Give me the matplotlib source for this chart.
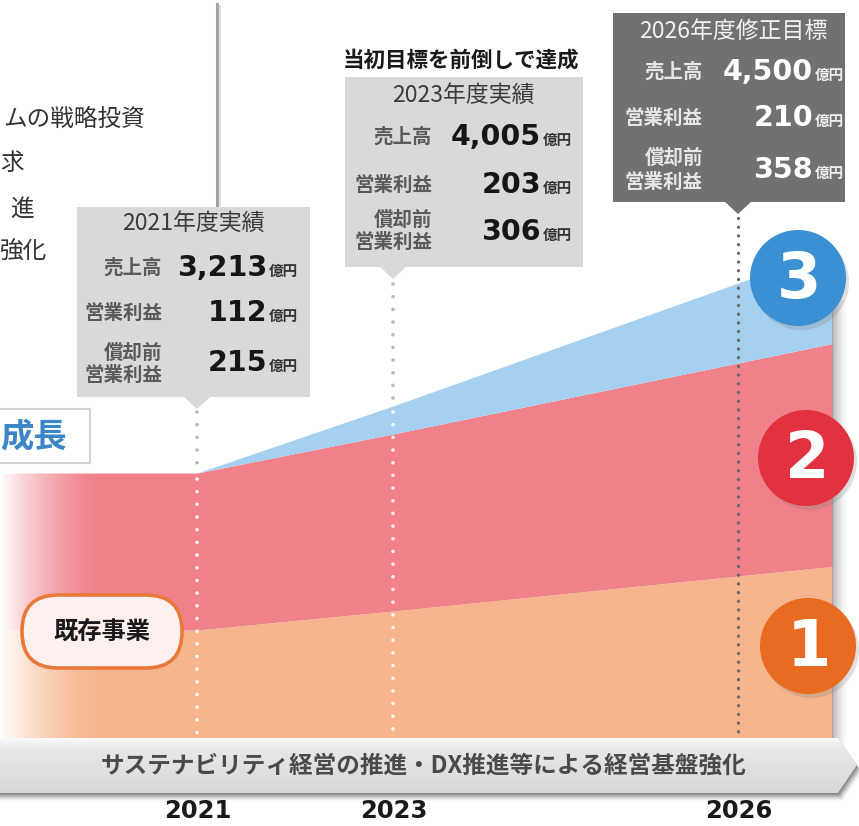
import numpy as np
import matplotlib
matplotlib.use('Agg')
import matplotlib.pyplot as plt
from matplotlib.patches import Polygon, Rectangle, Circle, FancyBboxPatch

plt.rcParams['font.family'] = ['Noto Sans CJK JP', 'DejaVu Sans']

# ---------------- data ----------------
years = [2021, 2023, 2026]
year_labels = ['2021', '2023', '2026']
# schematic band thickness (stacked)
existing_business = [115, 134, 169]   # band 1 (orange)
growth_business = [157, 177, 213]     # band 2 (red)
new_business = [0, 28, 80]            # band 3 (blue)
circle_labels = ['1', '2', '3']

box_titles = ['2021年度実績', '2023年度実績', '2026年度修正目標']
sales = ['3,213', '4,005', '4,500']
op_profit = ['112', '203', '210']
ebitda = ['215', '306', '358']
label_sales = '売上高'
label_op = '営業利益'
label_ebitda = ['償却前', '営業利益']
unit = '億円'
headline_2023 = '当初目標を前倒しで達成'
banner_text = 'サステナビリティ経営の推進・DX推進等による経営基盤強化'
existing_label = '既存事業'
growth_label = '成長'
topbox_lines = ['ムの戦略投資', '求', '進', '強化']

# ---------------- layout ----------------
W, H = 859, 826
YEAR_X = [197, 393, 738]
BASE = 745
X_LEFT, X_RIGHT = 0, 832

C_ORANGE = '#f6b58d'
C_RED = '#f0808a'
C_BLUE = '#a6d0ef'
C_CIRC = ['#e96b22', '#e2323f', '#3b8fd3']

fig = plt.figure(figsize=(W / 100, H / 100), dpi=100)
ax = fig.add_axes([0, 0, 1, 1])
ax.set_xlim(0, W)
ax.set_ylim(H, 0)
ax.axis('off')


def extend(v):
    """values at left edge, years, right edge (linear continuation)"""
    slope = (v[2] - v[1]) / (YEAR_X[2] - YEAR_X[1])
    return np.array([v[0], v[0], v[1], v[2], v[2] + slope * (X_RIGHT - YEAR_X[2])])


xs = np.array([X_LEFT] + YEAR_X + [X_RIGHT])
e = extend(existing_business)
g = extend(growth_business)
n = extend(new_business)
n[0] = 0
c1 = e
c2 = e + g
c3 = c2 + n
ax.fill_between(xs, BASE, BASE - c1, color=C_ORANGE, lw=0, zorder=1)
ax.fill_between(xs, BASE - c1, BASE - c2, color=C_RED, lw=0, zorder=1)
ax.fill_between(xs, BASE - c2, BASE - c3, color=C_BLUE, lw=0, zorder=1)

# left fade to white
fade = np.ones((2, 200, 4))
fade[..., 3] = np.clip(1 - np.linspace(0, 1, 200), 0, 1) ** 1.6
ax.imshow(fade, extent=(0, 105, BASE, 455), origin='upper', aspect='auto', zorder=2)

# right shadow strip
sh = np.zeros((2, 60, 4))
sh[..., :3] = 0.45
sh[..., 3] = 0.55 * (1 - np.linspace(0, 1, 60)) ** 1.5
ax.imshow(sh, extent=(X_RIGHT, X_RIGHT + 16, BASE, 300), origin='upper', aspect='auto', zorder=2)

# ---------------- top-left white box ----------------
ax.plot([217, 217], [4, 205], color='#a3a3a3', lw=2.2, zorder=3)
ax.plot([220, 220], [6, 205], color='#e0e0e0', lw=1.5, zorder=3)
ax.text(145, 119, topbox_lines[0], ha='right', va='center', fontsize=17, color='#333333', zorder=4)
ax.text(0, 163, topbox_lines[1], ha='left', va='center', fontsize=17, color='#333333', zorder=4)
ax.text(34, 209, topbox_lines[2], ha='right', va='center', fontsize=17, color='#333333', zorder=4)
ax.text(0, 252, topbox_lines[3], ha='left', va='center', fontsize=17, color='#333333', zorder=4)

# ---------------- 成長 box ----------------
ax.add_patch(Rectangle((-5, 409), 95, 54, facecolor='white', edgecolor='#d2d2d2', lw=1.5, zorder=3))
ax.text(67, 437, growth_label, ha='right', va='center', fontsize=24, fontweight='bold',
        color='#3c86c8', zorder=4)

# ---------------- dotted year lines ----------------
def dots(x, y0, y1, color, lw=2.6, gap=3.5, alpha=1.0):
    ax.plot([x, x], [y0, y1], color=color, lw=lw, alpha=alpha,
            linestyle=(0, (0.01, gap)), dash_capstyle='round', zorder=5)

top21 = BASE - c3[1]
top23 = BASE - c3[2]
dots(YEAR_X[0], 412, top21, '#b8b8b8')
dots(YEAR_X[0], top21 + 6, 738, '#ffffff', alpha=0.9)
dots(YEAR_X[1], 284, top23, '#b8b8b8')
dots(YEAR_X[1], top23 + 6, 738, '#ffffff', alpha=0.9)
dots(YEAR_X[2], 218, 738, '#6b6b6b', lw=2.4, gap=2.6)

# ---------------- info boxes ----------------
boxes = [
    dict(x0=77, y0=207, x1=310, y1=397, tip=409, fc='#d9d9d9', tc='#3a3a3a', lc='#5a5a5a',
         nc='#161616', uc='#333333', title=(193, 223), lrx=162, nrx=267, ulx=269,
         rows=(268, 313, 353, 375, 363)),
    dict(x0=345, y0=77, x1=583, y1=267, tip=279, fc='#d9d9d9', tc='#3a3a3a', lc='#5a5a5a',
         nc='#161616', uc='#333333', title=(463, 95), lrx=432, nrx=541, ulx=543,
         rows=(137, 185, 220, 242, 232)),
    dict(x0=613, y0=13, x1=845, y1=202, tip=214, fc='#717171', tc='#f2f2f2', lc='#e6e6e6',
         nc='#ffffff', uc='#f0f0f0', title=(733, 32), lrx=703, nrx=813, ulx=815,
         rows=(72, 118, 158, 182, 170)),
]
for i, b in enumerate(boxes):
    px = YEAR_X[i]
    ax.add_patch(Rectangle((b['x0'], b['y0']), b['x1'] - b['x0'], b['y1'] - b['y0'],
                           facecolor=b['fc'], edgecolor='none', zorder=6))
    ax.add_patch(Polygon([[px - 14, b['y1'] - 1], [px + 14, b['y1'] - 1], [px, b['tip']]],
                         closed=True, facecolor=b['fc'], edgecolor='none', zorder=6))
    ax.text(b['title'][0], b['title'][1], box_titles[i], ha='center', va='center',
            fontsize=16.5, color=b['tc'], zorder=7)
    r = b['rows']
    for txt, y in zip([label_sales, label_op, label_ebitda[0], label_ebitda[1]], r[:4]):
        ax.text(b['lrx'], y, txt, ha='right', va='center', fontsize=14,
                fontweight='bold', color=b['lc'], zorder=7)
    for val, y in zip([sales[i], op_profit[i], ebitda[i]], [r[0], r[1], r[4]]):
        ax.text(b['nrx'], y, val, ha='right', va='center', fontsize=20.5, fontweight='bold',
                family='DejaVu Sans', color=b['nc'], zorder=7)
        ax.text(b['ulx'], y + 3, unit, ha='left', va='center', fontsize=10.5,
                fontweight='bold', color=b['uc'], zorder=7)

ax.text(461, 60, headline_2023, ha='center', va='center', fontsize=15.5, fontweight='bold',
        color='#1a1a1a', zorder=7)

# ---------------- 既存事業 pill ----------------
ax.add_patch(FancyBboxPatch((22, 595), 160, 73, boxstyle='round,pad=0,rounding_size=36',
                            facecolor='#fdf0ee', edgecolor='#e8793a', lw=2.6, zorder=6))
ax.text(102, 632, existing_label, ha='center', va='center', fontsize=17.5, fontweight='bold',
        color='#1a1a1a', zorder=7)

# ---------------- numbered circles ----------------
centers = [(808, 646), (806, 458), (798, 278)]
for (cx, cy), col, lab in zip(centers, C_CIRC, circle_labels):
    ax.add_patch(Circle((cx + 3, cy + 4), 48, facecolor='#808080', alpha=0.25, lw=0, zorder=7))
    ax.add_patch(Circle((cx, cy), 48, facecolor=col, edgecolor='none', zorder=8))
    ax.text(cx + 1, cy + 2, lab, ha='center', va='center', fontsize=46, fontweight='bold',
            family='DejaVu Sans', color='white', zorder=9)

# ---------------- bottom banner ----------------
banner_pts = [[0, 738], [838, 738], [857, 765], [838, 793], [0, 793]]
for k, a in zip(range(1, 9), np.linspace(0.22, 0.03, 8)):
    sp = [[0, 738 + k], [838 + k * 0.6, 738 + k], [857 + k * 0.6, 765 + k],
          [838 + k * 0.6, 793 + k], [0, 793 + k]]
    ax.add_patch(Polygon(sp, closed=True, facecolor='#505050', alpha=a, lw=0, zorder=9))
banner = Polygon(banner_pts, closed=True, facecolor='none', edgecolor='none', zorder=10)
ax.add_patch(banner)
grad = np.zeros((60, 2, 3))
top_c = np.array([0.975, 0.975, 0.975])
mid_c = np.array([0.91, 0.91, 0.91])
bot_c = np.array([0.85, 0.85, 0.85])
t = np.linspace(0, 1, 60)[:, None]
colg = np.where(t < 0.2, top_c + (mid_c - top_c) * (t / 0.2),
                mid_c + (bot_c - mid_c) * ((t - 0.2) / 0.8))
grad[:] = colg[:, None, :]
im = ax.imshow(grad, extent=(0, 860, 793, 738), origin='upper', aspect='auto', zorder=10)
im.set_clip_path(banner)
ax.text(424, 766, banner_text, ha='center', va='center', fontsize=17, fontweight='bold',
        color='#4a4a4a', zorder=11)

# ---------------- year labels ----------------
for x, lab in zip(YEAR_X, year_labels):
    ax.text(x + 1, 811, lab, ha='center', va='center', fontsize=17.5, fontweight='bold',
            family='DejaVu Sans', color='#1a1a1a', zorder=11)

ax.set_xlim(0, W)
ax.set_ylim(H, 0)
fig.savefig('out.png', dpi=100)
